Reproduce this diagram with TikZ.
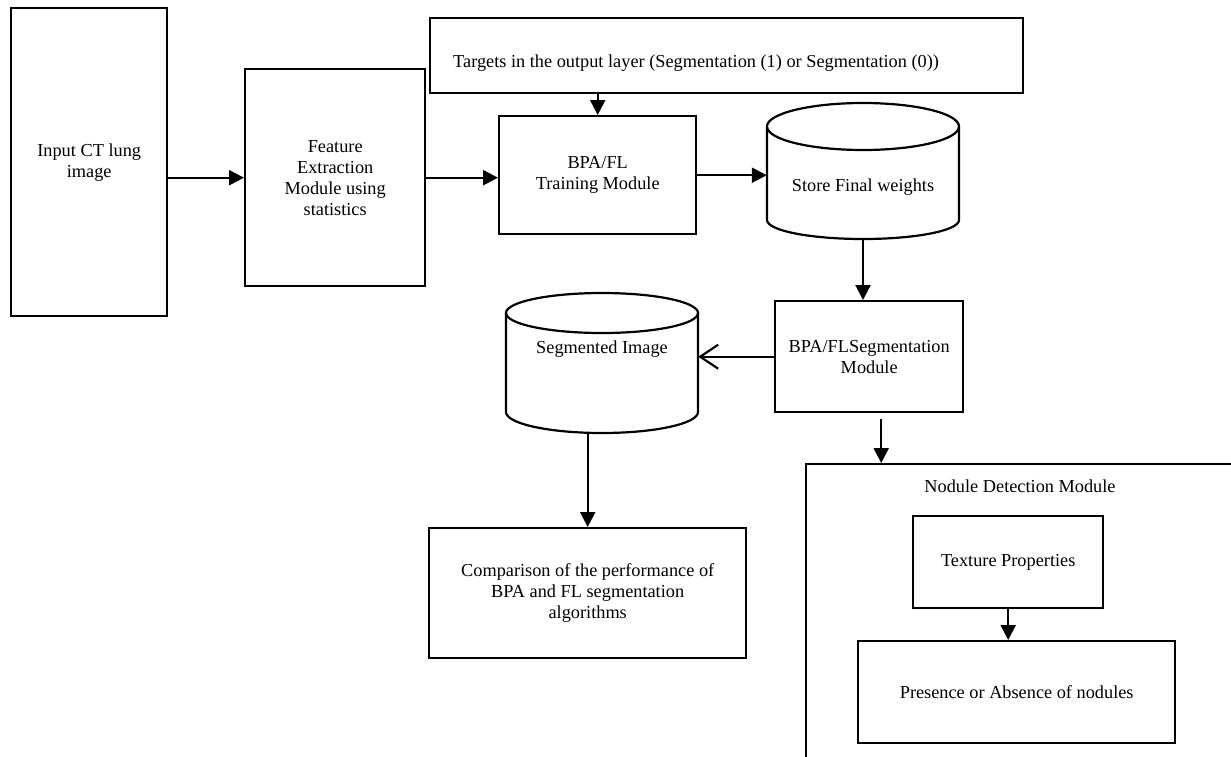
\documentclass[tikz,border=0pt]{standalone}
\usepackage{fontspec}
\setmainfont{Liberation Serif}
\usetikzlibrary{arrows.meta,calc}
\begin{document}
\begin{tikzpicture}[x=1pt,y=-1pt,
  fnt/.style={font=\fontsize{18.3}{21}\selectfont},
  box/.style={draw,line width=2.4pt,inner sep=0pt,align=center,anchor=north west,fnt},
  txt/.style={inner sep=0pt,align=center,fnt},
  ghost/.style={inner sep=0pt,minimum width=192pt},
  arr/.style={line width=2.2pt,-{Triangle[length=15pt,width=15pt]}},
  openarr/.style={line width=2.2pt,-{Straight Barb[length=18pt,width=24pt,line width=2.2pt]}},
  cyl/.style={line width=2.2pt}]
\useasboundingbox (0,0) rectangle (1231,756);
\clip (0,0) rectangle (1231,756);

% boxes
\node[box,minimum width=156pt,minimum height=308pt] (input) at (10,7) {Input CT lung\\image};
\node[box,minimum width=180pt,minimum height=217pt] (feat) at (244,68) {Feature\\Extraction\\Module using\\statistics};
\node[box,minimum width=593pt,minimum height=75pt] (targ) at (429,17) {};
\node[txt,anchor=west] (targtxt) at (453,63) {Targets in the output layer (Segmentation (1) or Segmentation (0))};
\node[box,minimum width=197pt,minimum height=118pt] (train) at (498,115) {BPA/FL\\Training Module};
\node[box,minimum width=188pt,minimum height=111pt] (seg) at (774,300) {BPA/FLSegmentation\\Module};
\node[box,minimum width=317pt,minimum height=130pt] (comp) at (428,527) {Comparison of the performance of\\BPA and FL segmentation\\algorithms};
\node[box,minimum width=500pt,minimum height=400pt] (nod) at (805,463) {};
\node[txt] (nodlbl) at (1020,486) {Nodule Detection Module};
\node[box,minimum width=190pt,minimum height=92pt] (tex) at (912,515) {Texture Properties};
\node[box,minimum width=317pt,minimum height=102pt] (pres) at (857,640) {Presence or Absence of nodules};

% Store Final weights cylinder
\node[ghost,minimum height=136pt] (store) at (863,171) {};
\draw[cyl] (863,126.5) ellipse [x radius=96, y radius=23.5];
\draw[cyl] (767,126.5) -- (767,220) arc[start angle=180,end angle=0,x radius=96,y radius=19] -- (959,126.5);
\node[txt] (storetxt) at (863,187) {Store Final weights};

% Segmented Image cylinder
\node[ghost,minimum height=140pt] (segimg) at (602,363) {};
\draw[cyl] (602,313) ellipse [x radius=96, y radius=20];
\draw[cyl] (506,313) -- (506,412) arc[start angle=180,end angle=0,x radius=96,y radius=21] -- (698,313);
\node[txt] (segimgtxt) at (602,349) {Segmented Image};

% connectors
\draw[arr] (feat.west -| input.east) -- (feat.west);
\draw[arr] (feat.east) -- (feat.east -| train.west);
\draw[arr] (targ.south -| train.north) -- (train.north);
\draw[arr] (train.east) -- (train.east -| store.west);
\draw[arr] (store.south) -- (store.south |- seg.north);
\draw[openarr] (seg.west) -- (seg.west -| segimg.east);
\draw[arr] (segimg.south -| comp.north) -- (comp.north);
\draw[arr] ([xshift=12pt,yshift=-6pt]seg.south) -- ([xshift=12pt]seg.south |- nod.north);
\draw[arr] (tex.south) -- (tex.south |- pres.north);
\end{tikzpicture}
\end{document}
